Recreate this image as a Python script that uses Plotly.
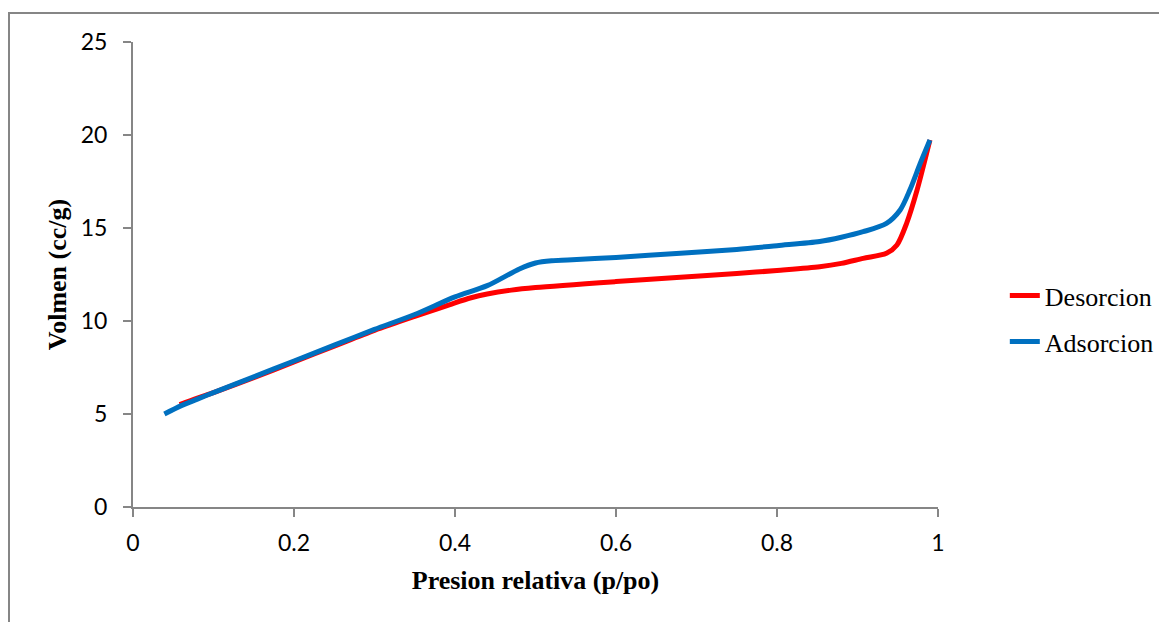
import plotly.graph_objects as go

# Adsorcion (blue)
ads_x = [0.039, 0.06, 0.08, 0.1, 0.15, 0.2, 0.25, 0.3, 0.35, 0.4, 0.44, 0.48, 0.5, 0.52, 0.54,
         0.6, 0.68, 0.75, 0.8, 0.853, 0.88, 0.907, 0.936, 0.953, 0.965, 0.978, 0.99]
ads_y = [5.0, 5.45, 5.8, 6.15, 7.0, 7.85, 8.7, 9.55, 10.35, 11.3, 11.9, 12.8, 13.12, 13.24, 13.28,
         13.42, 13.64, 13.85, 14.05, 14.27, 14.5, 14.8, 15.25, 15.97, 17.04, 18.48, 19.73]

# Desorcion (red)
des_x = [0.058, 0.08, 0.1, 0.15, 0.2, 0.25, 0.3, 0.35, 0.38, 0.4, 0.42, 0.44, 0.47, 0.5, 0.6,
         0.68, 0.75, 0.8, 0.853, 0.88, 0.907, 0.936, 0.949, 0.961, 0.974, 0.99]
des_y = [5.5, 5.85, 6.15, 6.95, 7.8, 8.65, 9.5, 10.25, 10.68, 10.98, 11.25, 11.45, 11.66, 11.8, 12.12,
         12.35, 12.55, 12.72, 12.92, 13.1, 13.37, 13.64, 14.09, 15.25, 17.04, 19.73]

x_ticks = [0, 0.2, 0.4, 0.6, 0.8, 1]
x_tick_labels = ["0", "0.2", "0.4", "0.6", "0.8", "1"]
y_ticks = [0, 5, 10, 15, 20, 25]

AXIS_GRAY = "#868686"

fig = go.Figure()
fig.add_trace(go.Scatter(x=des_x, y=des_y, mode="lines", name="Desorcion",
                         legendgroup="d",
                         line=dict(color="#FF0000", width=5, shape="spline", smoothing=0.8)))
fig.add_trace(go.Scatter(x=ads_x, y=ads_y, mode="lines", name="Adsorcion",
                         legendgroup="a",
                         line=dict(color="#0070C0", width=5, shape="spline", smoothing=0.8)))

fig.update_layout(
    width=1167, height=622,
    margin=dict(l=125, r=237, t=34, b=123),
    paper_bgcolor="white", plot_bgcolor="white",
    font=dict(family="Lato", size=23, color="black"),
    xaxis=dict(range=[0, 1], tickvals=x_ticks, ticktext=x_tick_labels,
               showgrid=False, zeroline=False, showline=True, linecolor=AXIS_GRAY, linewidth=2,
               ticks="outside", ticklen=8, tickcolor=AXIS_GRAY, tickwidth=2,
               ticklabelstandoff=6,
               title=dict(text="<b>Presion relativa (p/po)</b>",
                          font=dict(family="Liberation Serif", size=26), standoff=16)),
    yaxis=dict(range=[0, 25], tickvals=y_ticks,
               showgrid=False, zeroline=False, showline=True, linecolor=AXIS_GRAY, linewidth=2,
               ticks="outside", ticklen=8, tickcolor=AXIS_GRAY, tickwidth=2,
               ticklabelstandoff=11,
               title=dict(text="<b>Volmen (cc/g)</b>",
                          font=dict(family="Liberation Serif", size=26), standoff=7)),
    legend=dict(x=1.083, y=0.405, xanchor="left", yanchor="middle",
                font=dict(family="Liberation Serif", size=26),
                traceorder="grouped", tracegroupgap=9, bgcolor="rgba(0,0,0,0)"),
    shapes=[dict(type="rect", xref="paper", yref="paper",
                 x0=(9 - 133) / 805, x1=1.4, y0=-0.4, y1=(507 - 13) / 465,
                 line=dict(color=AXIS_GRAY, width=2), fillcolor="rgba(0,0,0,0)", layer="below")],
)

fig.write_html("out.html")
